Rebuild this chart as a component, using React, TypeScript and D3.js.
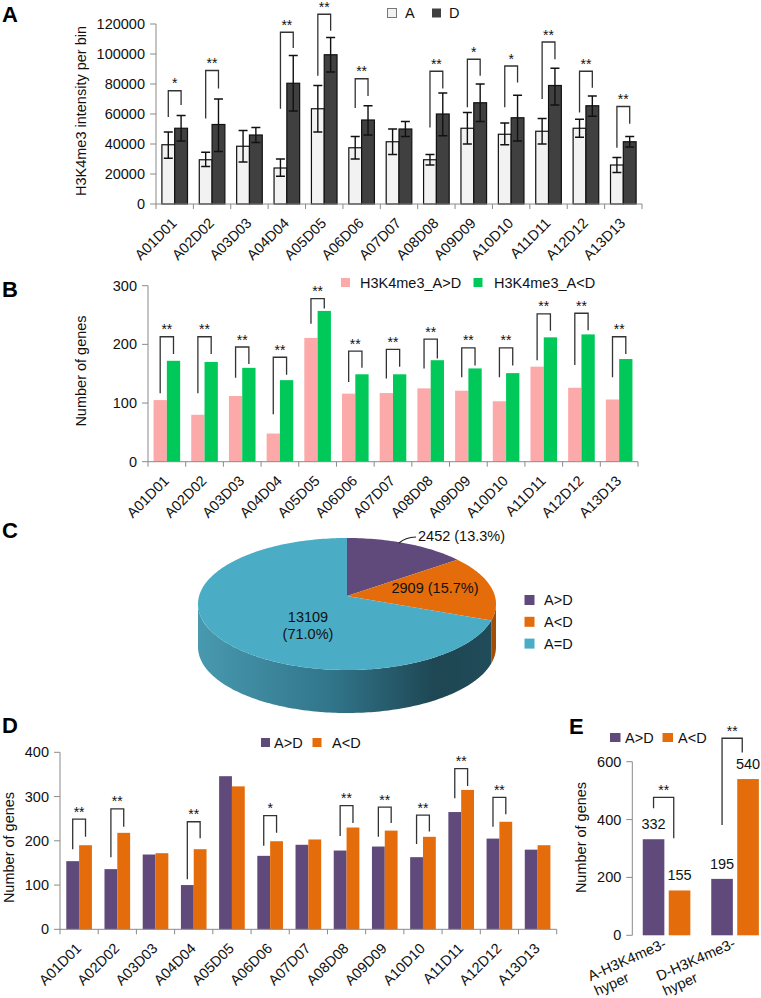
import React from 'react';
import * as d3 from 'd3';

// ---------- DATA ----------
const categories = ['A01D01','A02D02','A03D03','A04D04','A05D05','A06D06','A07D07','A08D08','A09D09','A10D10','A11D11','A12D12','A13D13'];

// Panel A: H3K4me3 intensity per bin
const intensityA = [39500, 29500, 38500, 24000, 63500, 37500, 41500, 29500, 50500, 46500, 48500, 50500, 26000];
const intensityAHi = [48000, 34500, 49000, 30000, 79000, 45000, 50000, 33000, 61000, 54000, 57000, 56500, 31000];
const intensityALo = [30500, 25000, 28000, 18500, 48000, 30000, 33000, 26000, 40000, 39500, 40000, 44500, 21000];
const intensityD = [50500, 53000, 46000, 80500, 99500, 56000, 50000, 60000, 67500, 57500, 79000, 65500, 41500];
const intensityDHi = [59000, 70000, 51000, 99000, 111000, 65500, 55000, 74000, 80000, 72500, 90500, 72000, 45000];
const intensityDLo = [42000, 35000, 41000, 62000, 88000, 46000, 45000, 45500, 55000, 42000, 66000, 58500, 38000];
const sigA = ['*','**','','**','**','**','','**','*','*','**','**','**'];
const bracketTopA = [75500, 89000, 0, 114500, 126500, 83500, 0, 88500, 96500, 92000, 108000, 88500, 65000];
const bracketLeftA = [58000, 57000, 0, 63500, 85500, 64000, 0, 51000, 64500, 64500, 70000, 61000, 37500];
const bracketRightA = [66000, 77000, 0, 104000, 115500, 72000, 0, 77000, 85500, 81000, 96500, 77500, 53500];
const ticksA = [0, 20000, 40000, 60000, 80000, 100000, 120000];

// Panel B: number of genes
const genesBUp = [105, 80, 112, 48, 211, 116, 117, 125, 121, 103, 162, 126, 106];
const genesBDown = [172, 170, 160, 139, 257, 149, 149, 173, 159, 151, 212, 217, 175];
const sigB = ['**','**','**','**','**','**','**','**','**','**','**','**','**'];
const bracketTopB = [213, 213, 195.5, 178, 278, 188.6, 191.5, 209, 194, 194, 252, 253, 213];
const bracketLeftB = [116.5, 116.5, 143, 81, 235, 136, 142, 159, 144, 144, 173, 165, 144];
const bracketRightB = [183.5, 183.5, 166.5, 148, 261, 160, 162, 176, 164, 164, 223, 224, 183.5];
const ticksB = [0, 100, 200, 300];

// Panel C: pie
const pieNames = ['A>D', 'A<D', 'A=D'];
const pieValues = [2452, 2909, 13109];
const pieLabels = ['2452 (13.3%)', '2909 (15.7%)', '13109', '(71.0%)'];

// Panel D
const genesDUp = [154, 136, 169, 100, 346, 166, 191, 178, 187, 163, 265, 205, 180];
const genesDDown = [190, 218, 172, 181, 323, 199, 203, 230, 223, 209, 315, 243, 190];
const sigD = ['**','**','','**','','*','','**','**','**','**','**',''];
const bracketTopD = [249, 272, 0, 243, 0, 257, 0, 279.5, 276, 258, 363, 298, 0];
const bracketLeftD = [181, 163, 0, 113, 0, 189, 0, 211, 209, 193, 296, 232, 0];
const bracketRightD = [209, 232, 0, 206, 0, 218, 0, 240, 240, 221, 324, 260, 0];
const ticksD = [0, 100, 200, 300, 400];

// Panel E
const catsE = ['A-H3K4me3-hyper', 'D-H3K4me3-hyper'];
const catsELines = [['A-H3K4me3-', 'hyper'], ['D-H3K4me3-', 'hyper']];
const genesEUp = [332, 195];
const genesEDown = [155, 540];
const bracketTopE = [477, 681];
const bracketLeftE = [439, 381];
const bracketRightE = [335, 632];
const ticksE = [0, 200, 400, 600];

// ---------- STYLE ----------
const FONT = "'Liberation Sans', Arial, Helvetica, sans-serif";
const AXIS = '#8a8a8a';
const TXT = '#111';
const LIGHT = '#f2f2f2';
const DARK = '#404040';
const PINK = '#fca9a9';
const GREEN = '#00c95a';
const PURPLE = '#604a7b';
const ORANGE = '#e46c0a';
const TEAL = '#4bacc6';

type Scale = (v: number) => number;

function YAxis({ x, y, ticks }: { x: number; y: Scale; ticks: number[] }) {
  return (
    <g>
      <line x1={x} x2={x} y1={y(ticks[0])} y2={y(ticks[ticks.length - 1])} stroke={AXIS} strokeWidth={1} />
      {ticks.map((t) => (
        <g key={t}>
          <line x1={x - 6} x2={x} y1={y(t)} y2={y(t)} stroke={AXIS} strokeWidth={1} />
          <text x={x - 11} y={y(t) + 5} textAnchor="end" fontSize={14.5} fill={TXT}>{t}</text>
        </g>
      ))}
    </g>
  );
}

function XAxis({ x0, y0, cats, labelDx, labelDy }: { x0: d3.ScaleBand<string>; y0: number; cats: string[]; labelDx: number; labelDy: number }) {
  const r = x0.range();
  const edges = cats.map((c) => x0(c) as number).concat([r[1]]);
  return (
    <g>
      <line x1={r[0]} x2={r[1]} y1={y0} y2={y0} stroke={AXIS} strokeWidth={1} />
      {edges.map((e, i) => (
        <line key={i} x1={e} x2={e} y1={y0} y2={y0 + 5} stroke={AXIS} strokeWidth={1} />
      ))}
      {cats.map((c) => {
        const cx = (x0(c) as number) + x0.bandwidth() / 2;
        return (
          <text key={c} transform={`translate(${cx + labelDx},${y0 + labelDy}) rotate(-45)`} textAnchor="end" fontSize={14.5} fill={TXT}>{c}</text>
        );
      })}
    </g>
  );
}

function Bracket({ x1, x2, yTop, yL, yR, label }: { x1: number; x2: number; yTop: number; yL: number; yR: number; label: string }) {
  return (
    <g>
      <path d={`M${x1},${yL}V${yTop}H${x2}V${yR}`} fill="none" stroke="#333" strokeWidth={1.3} />
      <text x={(x1 + x2) / 2} y={yTop - 2.5} textAnchor="middle" fontSize={14} fill={TXT}>{label}</text>
    </g>
  );
}

function YLabel({ x, y, text }: { x: number; y: number; text: string }) {
  return <text transform={`translate(${x},${y}) rotate(-90)`} textAnchor="middle" fontSize={14.5} fill={TXT}>{text}</text>;
}

function PanelLetter({ x, y, t }: { x: number; y: number; t: string }) {
  return <text x={x} y={y} fontSize={22} fontWeight="bold" fill="#000">{t}</text>;
}

function PanelA() {
  const x0 = d3.scaleBand<string>().domain(categories).range([156, 642]);
  const x1 = d3.scaleBand<string>().domain(['A', 'D']).range([0, x0.step()]).paddingInner(0).paddingOuter(0.46);
  const y = d3.scaleLinear().domain([0, 120000]).range([204, 24]);
  const bw = x1.bandwidth();
  return (
    <g>
      <PanelLetter x={2} y={22} t="A" />
      <YLabel x={86} y={111} text="H3K4me3 intensity per bin" />
      <YAxis x={156} y={y} ticks={ticksA} />
      {categories.map((c, i) => {
        const xa = (x0(c) as number) + (x1('A') as number);
        const xd = (x0(c) as number) + (x1('D') as number);
        return (
          <g key={c}>
            <rect x={xa} y={y(intensityA[i])} width={bw} height={y(0) - y(intensityA[i])} fill={LIGHT} stroke="#111" strokeWidth={1.2} />
            <rect x={xd} y={y(intensityD[i])} width={bw} height={y(0) - y(intensityD[i])} fill={DARK} stroke="#111" strokeWidth={1.2} />
            {[[xa, intensityALo[i], intensityAHi[i]], [xd, intensityDLo[i], intensityDHi[i]]].map(([bx, lo, hi], k) => (
              <path key={k} d={`M${bx + bw / 2},${y(lo)}V${y(hi)}M${bx + bw / 2 - 4.5},${y(lo)}h9M${bx + bw / 2 - 4.5},${y(hi)}h9`} stroke="#111" strokeWidth={1.4} fill="none" />
            ))}
            {sigA[i] && (
              <Bracket x1={xa + bw / 2} x2={xd + bw / 2} yTop={y(bracketTopA[i])} yL={y(bracketLeftA[i])} yR={y(bracketRightA[i])} label={sigA[i]} />
            )}
          </g>
        );
      })}
      <XAxis x0={x0} y0={204} cats={categories} labelDx={3} labelDy={20} />
      <rect x={387.5} y={8.5} width={9} height={9} fill={LIGHT} stroke="#777" strokeWidth={1} />
      <text x={405} y={18} fontSize={14.5} fill={TXT}>A</text>
      <rect x={432} y={8.5} width={9} height={9} fill={DARK} />
      <text x={449} y={18} fontSize={14.5} fill={TXT}>D</text>
    </g>
  );
}

function PanelB() {
  const x0 = d3.scaleBand<string>().domain(categories).range([148, 638]);
  const x1 = d3.scaleBand<string>().domain(['up', 'down']).range([0, x0.step()]).paddingInner(0).paddingOuter(0.417);
  const y = d3.scaleLinear().domain([0, 300]).range([461.7, 285.7]);
  const bw = x1.bandwidth();
  return (
    <g>
      <PanelLetter x={2} y={297} t="B" />
      <YLabel x={86} y={371} text="Number of genes" />
      <YAxis x={148} y={y} ticks={ticksB} />
      {categories.map((c, i) => {
        const xa = (x0(c) as number) + (x1('up') as number);
        const xd = (x0(c) as number) + (x1('down') as number);
        return (
          <g key={c}>
            <rect x={xa} y={y(genesBUp[i])} width={bw} height={y(0) - y(genesBUp[i])} fill={PINK} />
            <rect x={xd} y={y(genesBDown[i])} width={bw} height={y(0) - y(genesBDown[i])} fill={GREEN} />
            <Bracket x1={xa + bw / 2} x2={xd + bw / 2} yTop={y(bracketTopB[i])} yL={y(bracketLeftB[i])} yR={y(bracketRightB[i])} label={sigB[i]} />
          </g>
        );
      })}
      <XAxis x0={x0} y0={461.7} cats={categories} labelDx={3} labelDy={20} />
      <rect x={341} y={278} width={9} height={9} fill={PINK} />
      <text x={360} y={287.5} fontSize={14.5} fill={TXT}>H3K4me3_A&gt;D</text>
      <rect x={473.5} y={278} width={9} height={9} fill={GREEN} />
      <text x={494} y={287.5} fontSize={14.5} fill={TXT}>H3K4me3_A&lt;D</text>
    </g>
  );
}

function PanelC() {
  const cx = 347, cy = 604, rx = 149, ry = 66, vy = 596, depth = 43;
  const pt = (a: number, off = 0) => [cx + rx * Math.sin(a), cy - ry * Math.cos(a) + off];
  const arcs = d3.pie<number>().sort(null).value((d) => d)(pieValues);
  const colors = [PURPLE, ORANGE, TEAL];
  const sideColors = [PURPLE, '#a34d07', 'url(#sideGrad)'];
  const arcPts = (a0: number, a1: number, off: number) => {
    const n = Math.max(2, Math.ceil(Math.abs(a1 - a0) / 0.02));
    const out: number[][] = [];
    for (let i = 0; i <= n; i++) out.push(pt(a0 + ((a1 - a0) * i) / n, off));
    return out;
  };
  const line = d3.line();
  return (
    <g>
      <defs>
        <linearGradient id="sideGrad" gradientUnits="userSpaceOnUse" x1={cx - rx} x2={cx + rx} y1={0} y2={0}>
          <stop offset="0" stopColor="#4899af" />
          <stop offset="0.45" stopColor="#31758a" />
          <stop offset="0.8" stopColor="#1e4653" />
          <stop offset="1" stopColor="#214c59" />
        </linearGradient>
      </defs>
      <PanelLetter x={2} y={538} t="C" />
      {arcs.map((a, i) => {
        const s = Math.max(a.startAngle, Math.PI / 2);
        const e = Math.min(a.endAngle, (3 * Math.PI) / 2);
        if (e <= s) return null;
        const pts = arcPts(s, e, 0).concat(arcPts(e, s, depth));
        return <path key={'s' + i} d={(line(pts as [number, number][]) || '') + 'Z'} fill={sideColors[i]} />;
      })}
      {arcs.map((a, i) => {
        const pts = [[cx, vy]].concat(arcPts(a.startAngle, a.endAngle, 0));
        return <path key={'t' + i} d={(line(pts as [number, number][]) || '') + 'Z'} fill={colors[i]} />;
      })}
      <path d="M399,543 Q405,537.5 416,537" fill="none" stroke="#222" strokeWidth={1.2} />
      <text x={418} y={541} fontSize={14.5} fill={TXT}>{pieLabels[0]}</text>
      <text x={435} y={593} textAnchor="middle" fontSize={14.5} fill={TXT}>{pieLabels[1]}</text>
      <text x={308} y={621.5} textAnchor="middle" fontSize={14.5} fill={TXT}>{pieLabels[2]}</text>
      <text x={308} y={638.5} textAnchor="middle" fontSize={14.5} fill={TXT}>{pieLabels[3]}</text>
      {pieNames.map((n, i) => (
        <g key={n}>
          <rect x={524.5} y={595 + i * 21.8} width={10} height={10} fill={colors[i]} />
          <text x={544} y={605 + i * 21.8} fontSize={14.5} fill={TXT}>{n}</text>
        </g>
      ))}
    </g>
  );
}

function PanelD() {
  const x0 = d3.scaleBand<string>().domain(categories).range([60, 556.7]);
  const x1 = d3.scaleBand<string>().domain(['up', 'down']).range([0, x0.step()]).paddingInner(0).paddingOuter(0.49);
  const y = d3.scaleLinear().domain([0, 400]).range([929.3, 752.3]);
  const bw = x1.bandwidth();
  return (
    <g>
      <PanelLetter x={2} y={733} t="D" />
      <YLabel x={13.5} y={847.5} text="Number of genes" />
      <YAxis x={60} y={y} ticks={ticksD} />
      {categories.map((c, i) => {
        const xa = (x0(c) as number) + (x1('up') as number);
        const xd = (x0(c) as number) + (x1('down') as number);
        return (
          <g key={c}>
            <rect x={xa} y={y(genesDUp[i])} width={bw} height={y(0) - y(genesDUp[i])} fill={PURPLE} />
            <rect x={xd} y={y(genesDDown[i])} width={bw} height={y(0) - y(genesDDown[i])} fill={ORANGE} />
            {sigD[i] && (
              <Bracket x1={xa + bw / 2} x2={xd + bw / 2} yTop={y(bracketTopD[i])} yL={y(bracketLeftD[i])} yR={y(bracketRightD[i])} label={sigD[i]} />
            )}
          </g>
        );
      })}
      <XAxis x0={x0} y0={929.3} cats={categories} labelDx={3} labelDy={20} />
      <rect x={261} y={738} width={9} height={9} fill={PURPLE} />
      <text x={274} y={747.5} fontSize={14.5} fill={TXT}>A&gt;D</text>
      <rect x={312.5} y={738} width={9} height={9} fill={ORANGE} />
      <text x={332} y={747.5} fontSize={14.5} fill={TXT}>A&lt;D</text>
    </g>
  );
}

function PanelE() {
  const x0 = d3.scaleBand<string>().domain(catsE).range([632.3, 769.3]);
  const x1 = d3.scaleBand<string>().domain(['up', 'down']).range([0, x0.step()]).paddingInner(0.169).paddingOuter(0.402);
  const y = d3.scaleLinear().domain([0, 600]).range([935.3, 761.7]);
  const bw = x1.bandwidth();
  return (
    <g>
      <PanelLetter x={569} y={734} t="E" />
      <YLabel x={586} y={837.5} text="Number of genes" />
      <YAxis x={632.3} y={y} ticks={ticksE} />
      {catsE.map((c, i) => {
        const xa = (x0(c) as number) + (x1('up') as number);
        const xd = (x0(c) as number) + (x1('down') as number);
        const center = (x0(c) as number) + x0.bandwidth() / 2;
        return (
          <g key={c}>
            <rect x={xa} y={y(genesEUp[i])} width={bw} height={y(0) - y(genesEUp[i])} fill={PURPLE} />
            <rect x={xd} y={y(genesEDown[i])} width={bw} height={y(0) - y(genesEDown[i])} fill={ORANGE} />
            <text x={xa + bw / 2} y={y(genesEUp[i]) - 10} textAnchor="middle" fontSize={14.5} fill={TXT}>{genesEUp[i]}</text>
            <text x={xd + bw / 2} y={y(genesEDown[i]) - 10} textAnchor="middle" fontSize={14.5} fill={TXT}>{genesEDown[i]}</text>
            <Bracket x1={xa + bw / 2} x2={xd + 5} yTop={y(bracketTopE[i])} yL={y(bracketLeftE[i])} yR={y(bracketRightE[i])} label="**" />
            <g transform={`translate(${center - 76},${y(0) + 46}) rotate(-24)`}>
              {catsELines[i].map((t, k) => (
                <text key={k} x={0} y={k * 16} fontSize={14.5} fill={TXT}>{t}</text>
              ))}
            </g>
          </g>
        );
      })}
      <rect x={610} y={733} width={10.5} height={9} fill={PURPLE} />
      <text x={625} y={742.5} fontSize={14.5} fill={TXT}>A&gt;D</text>
      <rect x={662.5} y={733} width={10.5} height={9} fill={ORANGE} />
      <text x={678} y={742.5} fontSize={14.5} fill={TXT}>A&lt;D</text>
    </g>
  );
}

export default function App() {
  return (
    <svg width={761} height={998} viewBox="0 0 761 998" style={{ position: 'absolute', left: 0, top: 0, background: '#fff' }} fontFamily={FONT}>
      <rect x={0} y={0} width={761} height={998} fill="#fff" />
      <PanelA />
      <PanelB />
      <PanelC />
      <PanelD />
      <PanelE />
    </svg>
  );
}
